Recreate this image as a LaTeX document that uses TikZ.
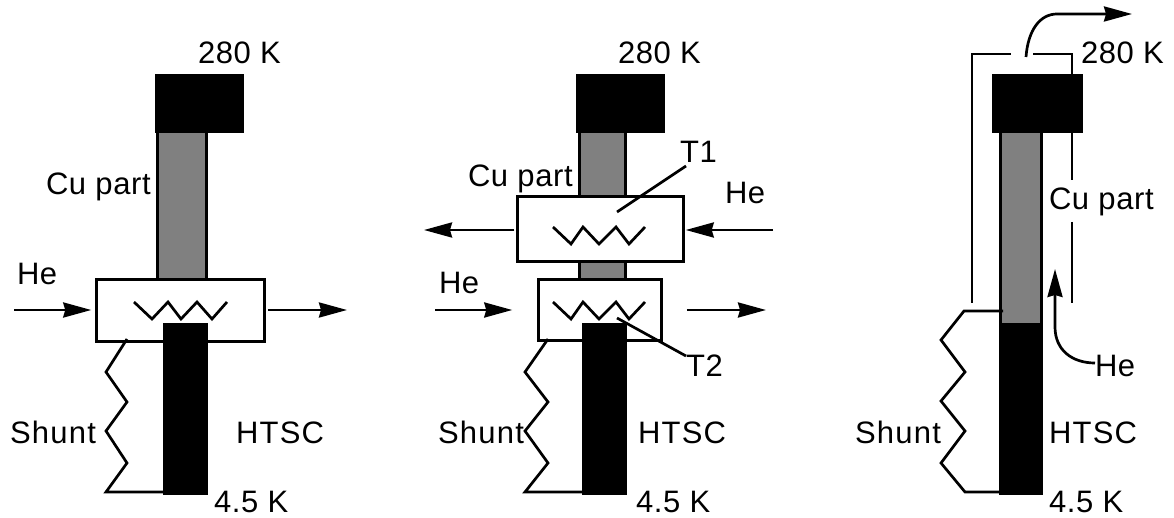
\documentclass[tikz,border=0pt]{standalone}
\usepackage{fontspec}
\setmainfont{Liberation Sans}
\usetikzlibrary{arrows.meta}

\begin{document}
\begin{tikzpicture}[x = 1pt, y = -1pt,
                > = {Stealth[length=28pt, width=15pt, inset=2pt]}, % arrow head style
                line width = 2.7pt, % line style
                line join = miter
            ]

            \tikzstyle{every node}=[inner sep = 0pt, outer sep = 0pt]
            \tikzstyle{lbl}=[anchor = base west, font = \fontsize{31}{31}\selectfont\addfontfeature{LetterSpace=2}]
            \tikzstyle{lblw}=[lbl, font = \fontsize{31}{31}\selectfont\addfontfeature{LetterSpace=4}]
            \tikzstyle{rod}=[draw = black, fill = black!50]
            \tikzstyle{htsc}=[draw = black, fill = black]
            \tikzstyle{block}=[fill = black]
            \tikzstyle{hx}=[draw = black, fill = white]

            \useasboundingbox (0,0) rectangle (1174,518);

            % left
            \node (rod1) [rod, minimum width = 49, minimum height = 160] at (182,205) {};
            \node (cap1) [block, minimum width = 89, minimum height = 59] at (199.5,103.5) {};
            \node (box1) [hx, minimum width = 168.5, minimum height = 62.5] at (180.5,310.5) {};
            \node (sc1) [htsc, minimum width = 42, minimum height = 169.5] at (185.5,409) {};
            \draw (134,302) -- (152,319) -- (168,302) -- (181,319) -- (197,302) -- (212,319) -- (227,302);
            \coordinate (in1) at (14,310);
            \coordinate (out1) at (347,310);
            \draw[->, shorten > = 5pt] (in1) -- (box1.west |- in1);
            \draw[->, shorten < = 3pt] (box1.east |- out1) -- (out1);
            \coordinate (sh1) at (127,339);
            \draw (sh1) -- (106,372) -- (127,402) -- (106,431) -- (127,463) -- (106,492) -- (sc1.west |- 0,492);
            \node (tt1) [lbl] at (198,64) {280 K};
            \node (cu1) [lbl] at (46,195) {Cu part};
            \node (he1) [lbl] at (17,285) {He};
            \node (sn1) [lblw] at (10,443) {Shunt};
            \node (hs1) [lblw] at (236,443) {HTSC};
            \node (lk1) [lbl] at (214,512) {4.5 K};

            % middle
            \node (rod2) [rod, minimum width = 46.5, minimum height = 160] at (602.5,205) {};
            \node (cap2) [block, minimum width = 89, minimum height = 59] at (620.5,103.5) {};
            \node (box2) [hx, minimum width = 166.5, minimum height = 65.5] at (600.5,229) {};
            \node (box3) [hx, minimum width = 123.5, minimum height = 61.5] at (600,310) {};
            \node (sc2) [htsc, minimum width = 42.5, minimum height = 169.5] at (604.5,409) {};
            \draw (553,227) -- (571,244) -- (583,227) -- (599,244) -- (616,227) -- (629,244) -- (645,227);
            \draw (553,302) -- (571,319) -- (583,302) -- (599,319) -- (616,302) -- (629,319) -- (645,302);
            \coordinate (in2) at (773,230);
            \coordinate (out2) at (424,230);
            \coordinate (in3) at (435,310);
            \coordinate (out3) at (766,310);
            \draw[->, shorten > = 2pt] (in2) -- (box2.east |- in2);
            \draw[->, shorten < = 3pt] (box2.west |- out2) -- (out2);
            \draw[->, shorten > = 26pt] (in3) -- (box3.west |- in3);
            \draw[->, shorten < = 25pt] (box3.east |- out3) -- (out3);
            \coordinate (sh2) at (548,339);
            \draw (sh2) -- (525,372) -- (548,402) -- (525,431) -- (548,463) -- (525,492) -- (sc2.west |- 0,492);
            \coordinate (t1a) at (617,212);
            \coordinate (t1b) at (686,166);
            \coordinate (t2a) at (617,318);
            \coordinate (t2b) at (686,356);
            \draw (t1a) -- (t1b);
            \draw (t2a) -- (t2b);
            \node (tt2) [lbl] at (618,64) {280 K};
            \node (cu2) [lbl] at (468,187) {Cu part};
            \node (t1) [lbl] at (680,163) {T1};
            \node (t2) [lbl] at (686,376) {T2};
            \node (he2) [lbl] at (725,204) {He};
            \node (he3) [lbl] at (439,294) {He};
            \node (sn2) [lblw] at (438,443) {Shunt};
            \node (hs2) [lblw] at (638,443) {HTSC};
            \node (lk2) [lbl] at (636,512) {4.5 K};

            % right
            \node (rod3) [rod, minimum width = 41.5, minimum height = 192] at (1021,228) {};
            \node (cap3) [block, minimum width = 91, minimum height = 59] at (1037.5,103.5) {};
            \node (sc3) [htsc, minimum width = 41.5, minimum height = 169.5] at (1021,409) {};
            \coordinate (ja) at (972,303);
            \coordinate (jb) at (1011,54);
            \coordinate (jc) at (1033,54);
            \coordinate (jd) at (1072,180);
            \coordinate (je) at (1072,222);
            \coordinate (jf) at (1072,303);
            \draw (ja) -- (ja |- jb) -- (jb);
            \draw (jc) -- (jd |- jc) -- (jd |- cap3.north);
            \draw (jd |- cap3.south) -- (jd);
            \draw (je) -- (jf);
            \coordinate (ex1) at (1026,57);
            \coordinate (ex2) at (1132,14);
            \draw[->] (ex1) .. controls (1028,30) and (1040,14) .. (1057,14) -- (ex2);
            \node (he4) [lbl] at (1095,376) {He};
            \coordinate (hf1) at (1055,269);
            \draw[->] (he4.base west |- 0,363) .. controls (1072,363) and (1055,350) .. (1055,327) -- (hf1);
            \coordinate (sh3) at (1003,311);
            \draw (sh3) -- (964,311) -- (941,340) -- (965,372) -- (941,401) -- (965,431) -- (941,463) -- (965,492) -- (sc3.west |- 0,492);
            \node (tt3) [lbl] at (1081,64) {280 K};
            \node (cu3) [lbl] at (1049,210) {Cu part};
            \node (sn3) [lblw] at (855,443) {Shunt};
            \node (hs3) [lblw] at (1049,443) {HTSC};
            \node (lk3) [lbl] at (1049,512) {4.5 K};
\end{tikzpicture}
\end{document}
